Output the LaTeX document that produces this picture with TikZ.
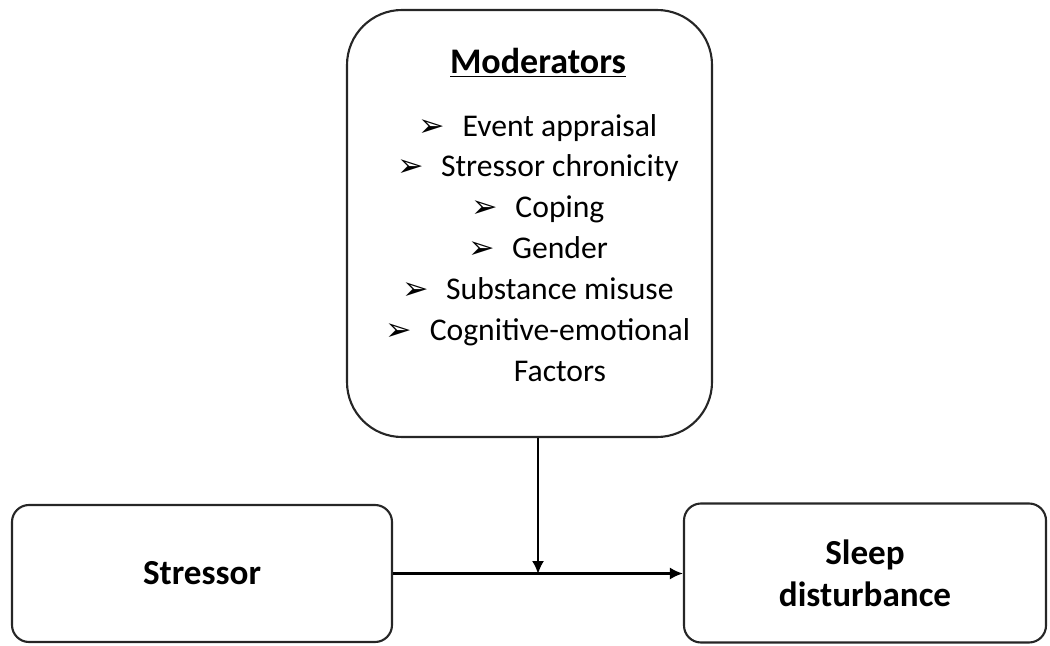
\documentclass[tikz,border=0pt]{standalone}
\usepackage{fontspec}
\setmainfont{Carlito}
\newfontfamily\dingfont{DejaVu Sans}
\usetikzlibrary{arrows.meta,positioning,calc}
\newcommand{\bul}{{\dingfont\fontsize{18}{18}\selectfont ➢}\hspace{0.55em}}

\begin{document}
\begin{tikzpicture}[x=0.02cm, y=-0.02cm,
  box/.style={draw=black!85, rounded corners=17*0.02cm, line width=1.2pt,
              font=\fontsize{20}{24}\selectfont\bfseries, align=center},
  bigbox/.style={draw=black!85, rounded corners=55*0.02cm, line width=1.2pt,
              minimum width=365*0.02cm, minimum height=427*0.02cm},
  list/.style={font=\fontsize{18}{23.3}\selectfont, align=center},
  arrow/.style={-{Latex[length=2.6mm,width=2.4mm]}, line width=1.2pt},
]
\useasboundingbox (0,0) rectangle (1050,645);

% Top: moderators
\node[bigbox] (mod) at (529.5,223.5) {};
\node[font=\fontsize{20.5}{24}\selectfont\bfseries] (modtitle) at (538,63) {\underline{Moderators}};
\node[list] (modlist) at (538,248) {%
  \bul Event appraisal\\
  \bul Stressor chronicity\\
  \bul Coping\\
  \bul Gender\\
  \bul Substance misuse\\
  \bul Cognitive-emotional\\
  \phantom{\bul}Factors};

% Bottom row
\node[box, minimum width=380*0.02cm, minimum height=137*0.02cm] (stressor) at (202,573.5) {Stressor};
\node[box, minimum width=362*0.02cm, minimum height=139*0.02cm] (sleep) at (865,573) {Sleep\\disturbance};

\coordinate (mid) at (538,574);
\draw[arrow] (stressor.east) -- (sleep.west |- stressor.east);
\draw[arrow] (mod.south -| mid) -- (mid);
\end{tikzpicture}
\end{document}
